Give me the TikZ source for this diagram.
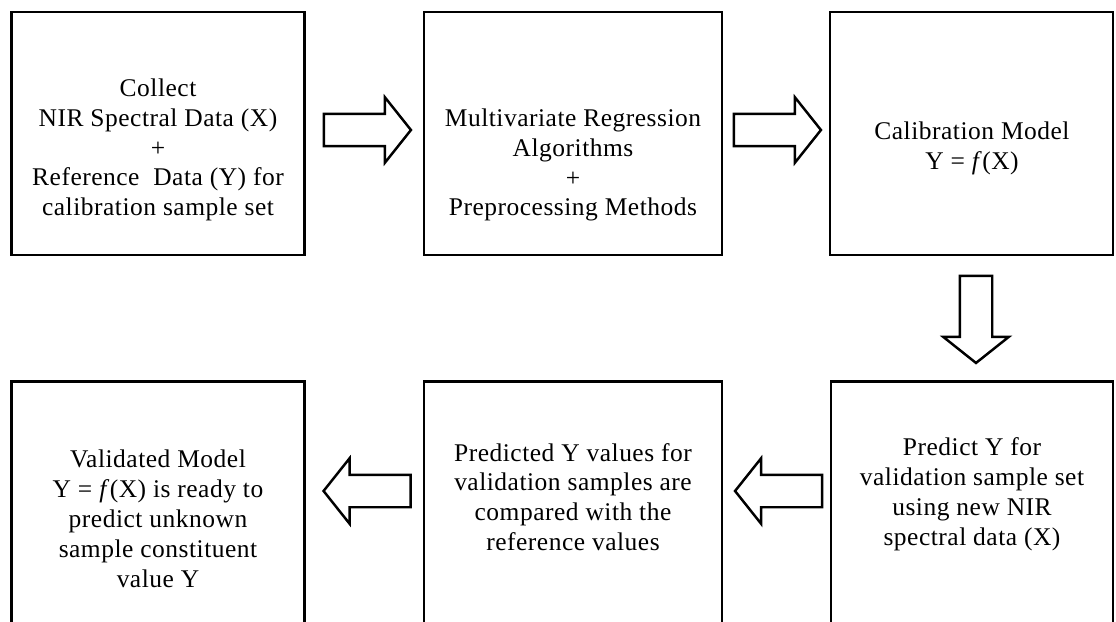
\documentclass[tikz,border=0pt]{standalone}
\usepackage{fontspec}
\setmainfont[LetterSpace=2]{Liberation Serif}
\usetikzlibrary{shapes.arrows,calc}

\begin{document}
\begin{tikzpicture}[x=0.02cm, y=-0.02cm,
    box/.style={draw, line width=1.6pt, minimum width=5.9cm, minimum height=4.86cm, inner sep=0pt},
    txt/.style={align=center, font=\fontsize{14.5}{17}\selectfont, inner sep=0pt},
    barrow/.style={single arrow, draw, line width=1.4pt, fill=white, inner xsep=0pt, inner ysep=0.3cm,
        minimum height=1.74cm, single arrow head extend=0.33cm,
        single arrow tip angle=103}
]
\useasboundingbox (0,0) rectangle (1116,622);
\begin{scope}
\clip (0,0) rectangle (1116,622);
% top row
\node[box, minimum width=5.86cm] (collect) at (158,133.5) {};
\node[box, minimum width=5.96cm] (regress) at (573,133.5) {};
\node[box, minimum width=5.66cm] (calib) at (971.5,133.5) {};
% bottom row, runs off the page
\node[box, minimum width=5.86cm, minimum height=5.1cm] (valid) at (158,509) {};
\node[box, minimum width=5.96cm, minimum height=5.1cm] (compare) at (573,509) {};
\node[box, minimum width=5.64cm, minimum height=5.1cm] (predict) at (972,509) {};
\end{scope}

\node[txt] (tcollect) at (158,150) {Collect\\NIR Spectral Data (X)\\+\\Reference\ \ Data (Y) for\\calibration sample set};
\node[txt] (tregress) at (573,165) {Multivariate Regression\\Algorithms\\+\\Preprocessing Methods};
\node[txt] (tcalib) at (972,148) {Calibration Model\\Y = \textit{f}(X)};
\node[txt] (tpredict) at (972,494) {Predict Y for\\validation sample set\\using new NIR\\spectral data (X)};
\node[txt] (tcompare) at (573,497) {Predicted Y values for\\validation samples are\\compared with the\\reference values};
\node[txt] (tvalid) at (158,519) {Validated Model\\Y = \textit{f}(X) is ready to\\predict unknown\\sample constituent\\value Y};

% block arrows between the boxes
\node[barrow] (a1) at (361,130) {};
\node[barrow] (a2) at (771,130) {};
\node[barrow, rotate=-90] (a3) at (976,313) {};
\node[barrow, rotate=180] (a4) at (785,491) {};
\node[barrow, rotate=180] (a5) at (373.5,491) {};
\end{tikzpicture}
\end{document}
